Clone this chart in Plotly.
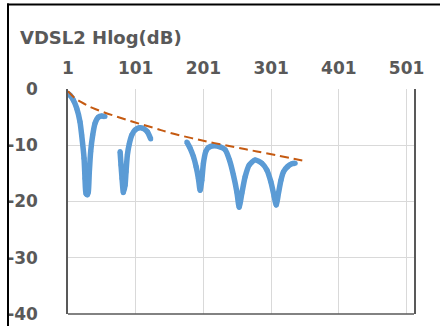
import plotly.graph_objects as go

# Blue Hlog measurement, three segments (tone index, dB)
seg1_x = [1, 4, 9, 13.8, 18.7, 21.2, 24.7, 26.1, 27.6, 29.5, 31, 32.5, 34.5, 37.5, 40.9, 45.8, 50.8, 55.7]
seg1_y = [-0.8, -1.1, -2.0, -3.4, -5.8, -8.2, -12.3, -15.9, -18.6, -18.8, -18.3, -14.7, -11.1, -8.2, -6.1, -5.0, -4.8, -4.9]

seg2_x = [77.9, 79.3, 80.8, 82.8, 85.3, 86.7, 88.7, 91.6, 95.2, 100, 106.4, 112.3, 118.2, 123.2]
seg2_y = [-11.1, -13.5, -15.9, -18.4, -17.1, -14.7, -11.7, -9.7, -8.2, -7.3, -6.9, -7.0, -7.6, -8.9]

seg3_x = [176.4, 181.3, 186.2, 190.2, 193.6, 196.1, 198.6, 201, 204.5, 208.4, 215.8, 225.7, 233.1,
          239.4, 245.3, 250.4, 253.8, 257.8, 262.6, 268.6, 277.4, 287.3, 294.7, 300.6, 305.5,
          308.5, 311.9, 315.5, 319.3, 325.2, 331.7, 336.6]
seg3_y = [-9.4, -10.5, -12.0, -13.8, -15.9, -18.0, -16.2, -13.2, -11.1, -10.4, -10.1, -10.3, -10.8,
          -12.6, -15.3, -18.3, -21.0, -18.5, -15.6, -13.5, -12.6, -13.2, -14.4, -16.5, -19.1,
          -20.6, -18.5, -16.2, -14.7, -13.8, -13.3, -13.2]

# Orange dashed reference curve
ref_x = [1, 10, 20, 38, 88, 130, 152, 201, 250, 280, 347]
ref_y = [-0.4, -1.5, -2.3, -3.4, -5.5, -7.0, -7.8, -9.2, -10.4, -11.1, -12.7]

x_ticks = [1, 101, 201, 301, 401, 501]
y_ticks = [0, -10, -20, -30, -40]

BLUE = "#5B9BD5"
ORANGE = "#C55A11"
GRAY = "#595959"
FONT = "DejaVu Sans"

fig = go.Figure()
for xs, ys in [(seg1_x, seg1_y), (seg2_x, seg2_y), (seg3_x, seg3_y)]:
    fig.add_trace(go.Scatter(
        x=xs, y=ys, mode="lines+markers",
        line=dict(color=BLUE, width=5.5, shape="spline", smoothing=0.6),
        marker=dict(color=BLUE, size=5),
        showlegend=False, hoverinfo="skip"))

fig.add_trace(go.Scatter(
    x=ref_x, y=ref_y, mode="lines",
    line=dict(color=ORANGE, width=2, dash="9px,5px", shape="spline"),
    showlegend=False, hoverinfo="skip"))

L, R, T, B = 68, 26, 89, 12
W, H = 440, 326
pw, ph = W - L - R, H - T - B

def px_x(p):
    return (p - L) / pw

def px_y(p):
    return (H - B - p) / ph

fig.update_layout(
    width=W, height=H,
    margin=dict(l=L, r=R, t=T, b=B, pad=0, autoexpand=False),
    paper_bgcolor="white", plot_bgcolor="white",
    font=dict(family=FONT, color=GRAY),
    xaxis=dict(
        range=[1, 512], side="top", tickvals=x_ticks,
        ticktext=[str(v) for v in x_ticks],
        showgrid=True, gridcolor="#D9D9D9", gridwidth=1,
        zeroline=False, showline=False, ticks="", automargin=False,
        tickfont=dict(family=FONT, size=17, color=GRAY, weight="bold"),
        ticklabelstandoff=11,
    ),
    yaxis=dict(
        range=[-40, 0], tickvals=y_ticks,
        ticktext=[str(v) for v in y_ticks],
        showgrid=True, gridcolor="#D9D9D9", gridwidth=1,
        zeroline=False, showline=True, mirror=True, automargin=False,
        linecolor="#595959", linewidth=1.5, ticks="",
        tickfont=dict(family=FONT, size=17, color=GRAY, weight="bold"),
        ticklabelstandoff=25,
    ),
    shapes=[
        # bottom axis line of plot area
        dict(type="line", xref="paper", yref="paper", x0=0, x1=1, y0=0, y1=0,
             line=dict(color="#595959", width=1.5)),
        # outer frame (top and left)
        dict(type="line", xref="paper", yref="paper",
             x0=px_x(7), x1=px_x(441), y0=px_y(4.5), y1=px_y(4.5),
             line=dict(color="black", width=2)),
        dict(type="line", xref="paper", yref="paper",
             x0=px_x(8), x1=px_x(8), y0=px_y(3.5), y1=px_y(327),
             line=dict(color="black", width=2)),
    ],
    annotations=[
        dict(text="VDSL2 Hlog(dB)", xref="paper", yref="paper",
             x=px_x(18), y=px_y(37), xanchor="left", yanchor="middle",
             showarrow=False,
             font=dict(family=FONT, size=18, color=GRAY, weight="bold")),
    ],
)

fig.write_html("out.html")
